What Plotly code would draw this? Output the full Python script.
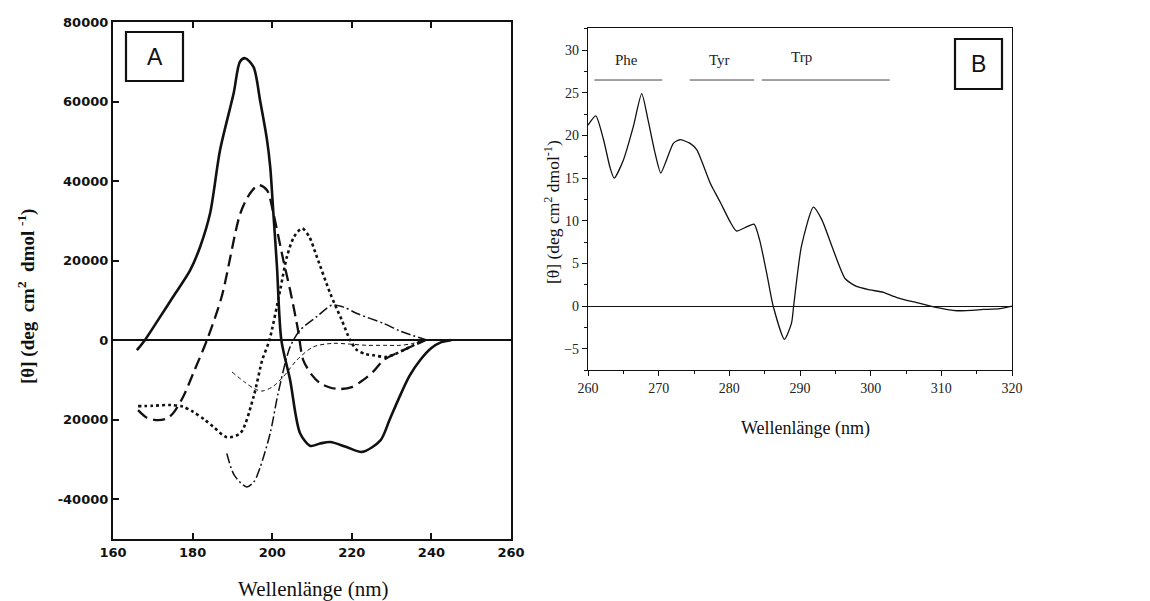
import plotly.graph_objects as go

# ---------------- Panel A data (wavelength nm, [theta]) ----------------
helix_x = [166, 168, 171.8, 175.1, 179.4, 181.9, 184.4, 186.9, 190.3, 191.9, 193.2, 195.3, 197, 198.7,
           199.5, 200.3, 201.2, 202.3, 204.5, 207, 209.6, 212, 214.6, 218.5, 222.6, 227.2, 229.5,
           231.8, 234.5, 237.2, 240, 242.5, 245]
helix_y = [-2500, 0, 5800, 10900, 17600, 23500, 31900, 47800, 62000, 70000, 70900, 68700, 60000, 50300,
           43600, 31900, 18400, 0, -10000, -23400, -26600, -26000, -25600, -26800, -28100, -25200, -20000,
           -14700, -9000, -5000, -2000, -500, 0]

sheet_x = [166.3, 168.5, 171.3, 173.5, 175.1, 177.6, 180.5, 183.6, 187.3, 192, 194.5, 196.6, 198.7,
           200.3, 202.8, 204.5, 206.5, 207.8, 210, 212, 214.5, 217, 220, 222.9, 225.5, 228, 233, 238.5]
sheet_y = [-17600, -19500, -20100, -19700, -18400, -14300, -7500, 0, 10900, 31900, 37000, 39000, 37700,
           31900, 20100, 12600, 2500, -5000, -8800, -10800, -11900, -12300, -11800, -10000, -7800, -5000, -2500, 0]

coil_x = [166.3, 170, 174.3, 177.5, 180.1, 183, 185.2, 188.6, 192, 195.3, 197.5, 199.3, 202, 203.7, 205.5,
          207.5, 209.3, 211.2, 214.6, 217.5, 219.6, 221.3, 223.5, 225.4, 228.8, 233, 238]
coil_y = [-16600, -16500, -16300, -16700, -18000, -20000, -21800, -24400, -23400, -14300, -5000, 0, 12600,
          21000, 26000, 28100, 26000, 21000, 11700, 5000, 0, -2500, -3500, -3800, -4200, -2500, 0]

turn_x = [189.9, 193, 195.5, 197.4, 200, 202.8, 206.2, 210.3, 215.3, 219.5, 223.8, 228, 232.2, 235, 238]
turn_y = [-8000, -10500, -12200, -12800, -11800, -9200, -5000, -1700, -800, -1000, -1300, -1300, -1300, -900, 0]

poly_x = [188.6, 190.5, 193.6, 195.5, 197, 199.5, 201.5, 204.5, 207, 211.2, 215, 218, 221.3, 228, 232.6, 239]
poly_y = [-28500, -34000, -36900, -35500, -31900, -23400, -13300, -1700, 2500, 5900, 8800, 8300, 6700, 4200, 2100, 0]

# Panel A axis ticks
a_xticks = [160, 180, 200, 220, 240, 260]
a_yticks = [80000, 60000, 40000, 20000, 0, -20000, -40000]
a_ytext = ["80000", "60000", "40000", "20000", "0", "20000", "-40000"]

# ---------------- Panel B data ----------------
b_x = [260, 261.1, 262.2, 263.1, 263.7, 265, 266.4, 267.6, 268.5, 269.5, 270.3, 271.1, 272.1, 273, 274.4,
       275.4, 277.3, 278.7, 280.1, 281.0, 282.5, 283.5, 284.3, 285.3, 286.2, 287.8, 288.8, 289.1, 290.2,
       291.9, 293.1, 294.7, 296.4, 298.0, 299.9, 301.8, 303.7, 306.5, 308.9, 312.2, 316, 318.3, 320]
b_y = [21.2, 22.3, 19.5, 16.3, 15.0, 17.1, 21.0, 24.9, 21.8, 17.9, 15.6, 17.1, 19.1, 19.5, 19.1,
       18.3, 14.4, 12.2, 9.9, 8.8, 9.3, 9.6, 7.7, 3.8, 0.0, -3.9, -2.0, 0.0, 7.0,
       11.6, 10.1, 6.6, 3.2, 2.3, 1.9, 1.6, 1.0, 0.4, -0.1, -0.55, -0.4, -0.3, 0.0]

b_regions = ["Phe", "Tyr", "Trp"]
b_reg_start = [260.9, 274.4, 284.6]
b_reg_end = [270.5, 283.5, 302.7]
b_reg_label_x = [265.4, 278.6, 290.2]
b_reg_label_y = [28.8, 28.8, 29.2]

fig = go.Figure()

black = "#111111"
fig.add_trace(go.Scatter(x=helix_x, y=helix_y, mode="lines", line=dict(color=black, width=2.6, shape="spline", smoothing=0.8),
                         xaxis="x", yaxis="y", showlegend=False))
fig.add_trace(go.Scatter(x=sheet_x, y=sheet_y, mode="lines", line=dict(color=black, width=2.3, dash="12px,6px", shape="spline", smoothing=0.8),
                         xaxis="x", yaxis="y", showlegend=False))
fig.add_trace(go.Scatter(x=coil_x, y=coil_y, mode="lines", line=dict(color=black, width=2.6, dash="dot", shape="spline", smoothing=0.8),
                         xaxis="x", yaxis="y", showlegend=False))
fig.add_trace(go.Scatter(x=turn_x, y=turn_y, mode="lines", line=dict(color=black, width=1.0, dash="4px,3px", shape="spline", smoothing=0.8),
                         xaxis="x", yaxis="y", showlegend=False))
fig.add_trace(go.Scatter(x=poly_x, y=poly_y, mode="lines", line=dict(color=black, width=1.5, dash="10px,3px,2px,3px", shape="spline", smoothing=0.8),
                         xaxis="x", yaxis="y", showlegend=False))

fig.add_trace(go.Scatter(x=b_x, y=b_y, mode="lines", line=dict(color=black, width=1.3, shape="spline", smoothing=0.6),
                         xaxis="x2", yaxis="y2", showlegend=False))

shapes = []
annotations = []
for name, s, e, lx, ly in zip(b_regions, b_reg_start, b_reg_end, b_reg_label_x, b_reg_label_y):
    shapes.append(dict(type="line", xref="x2", yref="y2", x0=s, x1=e, y0=26.5, y1=26.5,
                       line=dict(color="#444444", width=1)))
    annotations.append(dict(x=lx, y=ly, xref="x2", yref="y2", text=name, showarrow=False,
                            xanchor="center", yanchor="middle",
                            font=dict(family="Liberation Serif", size=15, color="#222222")))

# Box labels A and B
shapes.append(dict(type="rect", xref="paper", yref="paper", x0=126/1150, x1=183/1150,
                   y0=1-81/601, y1=1-32/601, line=dict(color=black, width=2.2)))
annotations.append(dict(x=154.5/1150, y=1-56.5/601, xref="paper", yref="paper", text="A", showarrow=False,
                        xanchor="center", yanchor="middle",
                        font=dict(family="Liberation Sans", size=23, color=black)))
shapes.append(dict(type="rect", xref="paper", yref="paper", x0=955/1150, x1=1002/1150,
                   y0=1-89/601, y1=1-39/601, line=dict(color=black, width=2.2)))
annotations.append(dict(x=978.5/1150, y=1-64/601, xref="paper", yref="paper", text="B", showarrow=False,
                        xanchor="center", yanchor="middle",
                        font=dict(family="Liberation Sans", size=23, color=black)))

# Axis titles
annotations.append(dict(x=313/1150, y=1-589/601, xref="paper", yref="paper", text="Wellenlänge (nm)",
                        xanchor="center", yanchor="middle",
                        showarrow=False, font=dict(family="Liberation Serif", size=21, color=black)))
annotations.append(dict(x=26/1150, y=1-297/601, xref="paper", yref="paper", textangle=-90,
                        text="<b>[θ] (deg&nbsp;&nbsp;cm<sup>2</sup>&nbsp;&nbsp;dmol <sup>-1</sup>)</b>",
                        xanchor="center", yanchor="middle",
                        showarrow=False, font=dict(family="Liberation Serif", size=19, color=black)))
annotations.append(dict(x=805/1150, y=1-428/601, xref="paper", yref="paper", text="Wellenlänge (nm)",
                        xanchor="center", yanchor="middle",
                        showarrow=False, font=dict(family="Liberation Serif", size=18, color=black)))
annotations.append(dict(x=552/1150, y=1-212/601, xref="paper", yref="paper", textangle=-90,
                        text="[θ] (deg cm<sup>2</sup> dmol<sup>-1</sup>)",
                        xanchor="center", yanchor="middle",
                        showarrow=False, font=dict(family="Liberation Serif", size=17.5, color=black)))

fig.update_layout(
    width=1150, height=601, autosize=False,
    margin=dict(l=0, r=0, t=0, b=0, pad=0),
    paper_bgcolor="white", plot_bgcolor="white",
    showlegend=False,
    xaxis=dict(domain=[113/1150, 511/1150], range=[160, 260], tickvals=a_xticks,
               ticks="inside", ticklen=6, tickwidth=1.5, tickcolor=black,
               showline=True, linecolor=black, linewidth=2.2, mirror="ticks",
               showgrid=False, zeroline=False, automargin=False,
               tickfont=dict(family="DejaVu Sans", size=13, color=black, weight="bold"), anchor="y"),
    yaxis=dict(domain=[1-539/601, 1-22/601], range=[-50000, 80000], tickvals=a_yticks, ticktext=a_ytext,
               ticks="inside", ticklen=6, tickwidth=1.5, tickcolor=black,
               showline=True, linecolor=black, linewidth=2.2, mirror=True,
               showgrid=False, zeroline=True, zerolinecolor=black, zerolinewidth=1.5, automargin=False,
               tickfont=dict(family="DejaVu Sans", size=13, color=black, weight="bold"), anchor="x"),
    xaxis2=dict(domain=[588/1150, 1012/1150], range=[260, 320], tickvals=[260, 270, 280, 290, 300, 310, 320],
                ticks="outside", ticklen=5, tickwidth=1, tickcolor=black,
                minor=dict(dtick=5, ticks="outside", ticklen=3, tickcolor=black),
                showline=True, linecolor=black, linewidth=1.2, mirror=True,
                showgrid=False, zeroline=False, automargin=False,
                tickfont=dict(family="Liberation Serif", size=14, color="#222222"), anchor="y2"),
    yaxis2=dict(domain=[1-370/601, 1-28/601], range=[-7.5, 32.6], tickvals=[-5, 0, 5, 10, 15, 20, 25, 30],
                ticks="outside", ticklen=5, tickwidth=1, tickcolor=black,
                minor=dict(dtick=2.5, ticks="outside", ticklen=3, tickcolor=black),
                showline=True, linecolor=black, linewidth=1.2, mirror=True,
                showgrid=False, zeroline=True, zerolinecolor=black, zerolinewidth=1.3, automargin=False,
                tickfont=dict(family="Liberation Serif", size=14, color="#222222"), anchor="x2"),
    shapes=shapes,
    annotations=annotations,
)

fig.write_html("out.html",
               post_script="document.body.style.margin='0';document.body.style.overflow='hidden';")
